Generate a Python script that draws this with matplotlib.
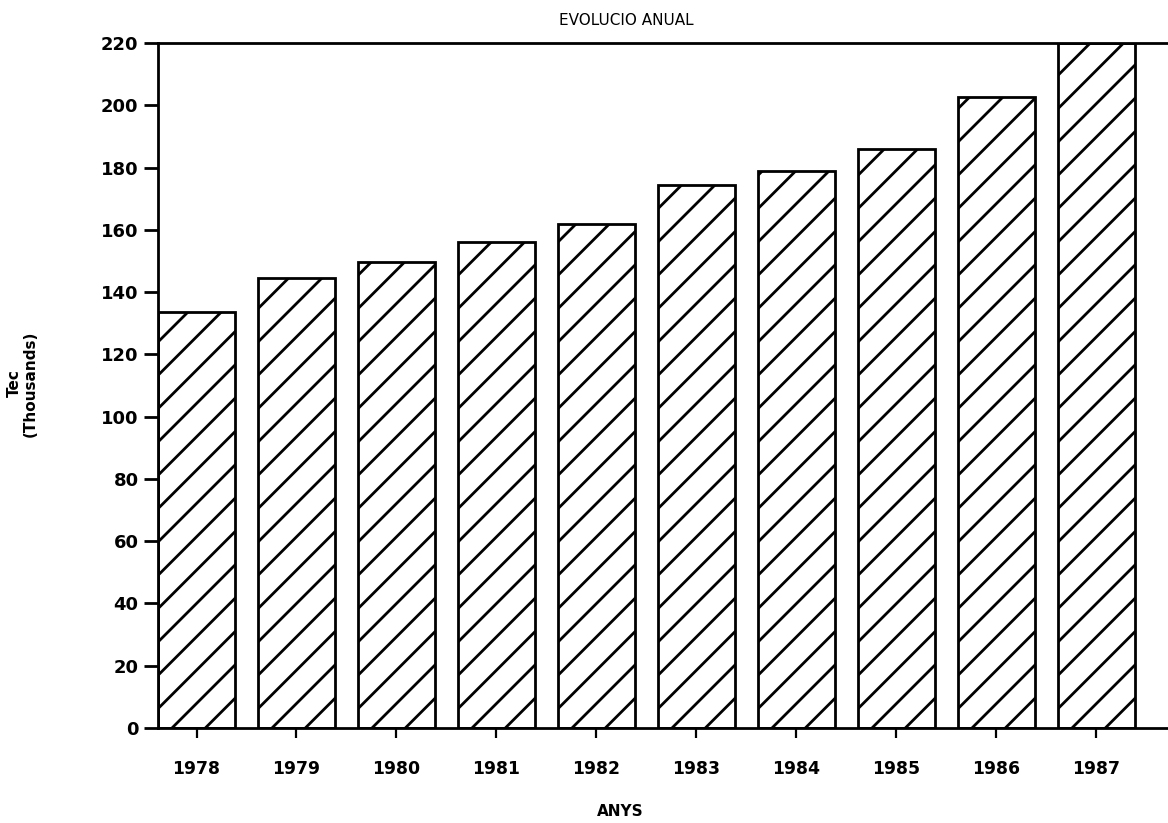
import matplotlib
matplotlib.use('Agg')
import matplotlib.pyplot as plt
import numpy as np

# Data
years = ['1978', '1979', '1980', '1981', '1982', '1983', '1984', '1985', '1986', '1987']
values = [133.5, 144.5, 149.5, 156.0, 162.0, 174.5, 179.0, 186.0, 202.5, 220.0]
y_ticks = [0, 20, 40, 60, 80, 100, 120, 140, 160, 180, 200, 220]

# High dpi so the hatch lines come out as sparse as in the scan
plt.rcParams['hatch.linewidth'] = 1.0
plt.rcParams['font.family'] = ['DejaVu Sans']

fig = plt.figure(figsize=(5.84, 4.115), dpi=200)
ax = fig.add_axes([0.1353, 0.1154, 0.8647, 0.8324])

x = np.arange(len(years))
ax.bar(x, values, width=0.77, color='white', edgecolor='black',
       linewidth=1.0, hatch='//', zorder=2)

ax.set_xlim(-0.385, 9.72)
ax.set_ylim(0, 220)
ax.set_yticks(y_ticks)
ax.set_xticks(x)
ax.set_xticklabels(years, fontsize=6.2, fontweight='bold')
ax.set_yticklabels([str(v) for v in y_ticks], fontsize=6.5, fontweight='bold')

ax.spines['right'].set_visible(False)
for side in ['left', 'bottom', 'top']:
    ax.spines[side].set_linewidth(1.0)
ax.tick_params(axis='y', direction='out', length=5, width=1.0, pad=2)
ax.tick_params(axis='x', direction='out', length=3.5, width=0.8, pad=8)

# Titles and axis labels
fig.text(0.536, 0.975, 'EVOLUCIO ANUAL', ha='center', va='center', fontsize=5.5)
fig.text(0.531, 0.0135, 'ANYS', ha='center', va='center', fontsize=5.5, fontweight='bold')
fig.text(0.019, 0.534, 'Tec\n(Thousands)', ha='center', va='center', rotation=90,
         fontsize=5.5, fontweight='bold', linespacing=1.1)

fig.savefig('out.png', dpi=200)
